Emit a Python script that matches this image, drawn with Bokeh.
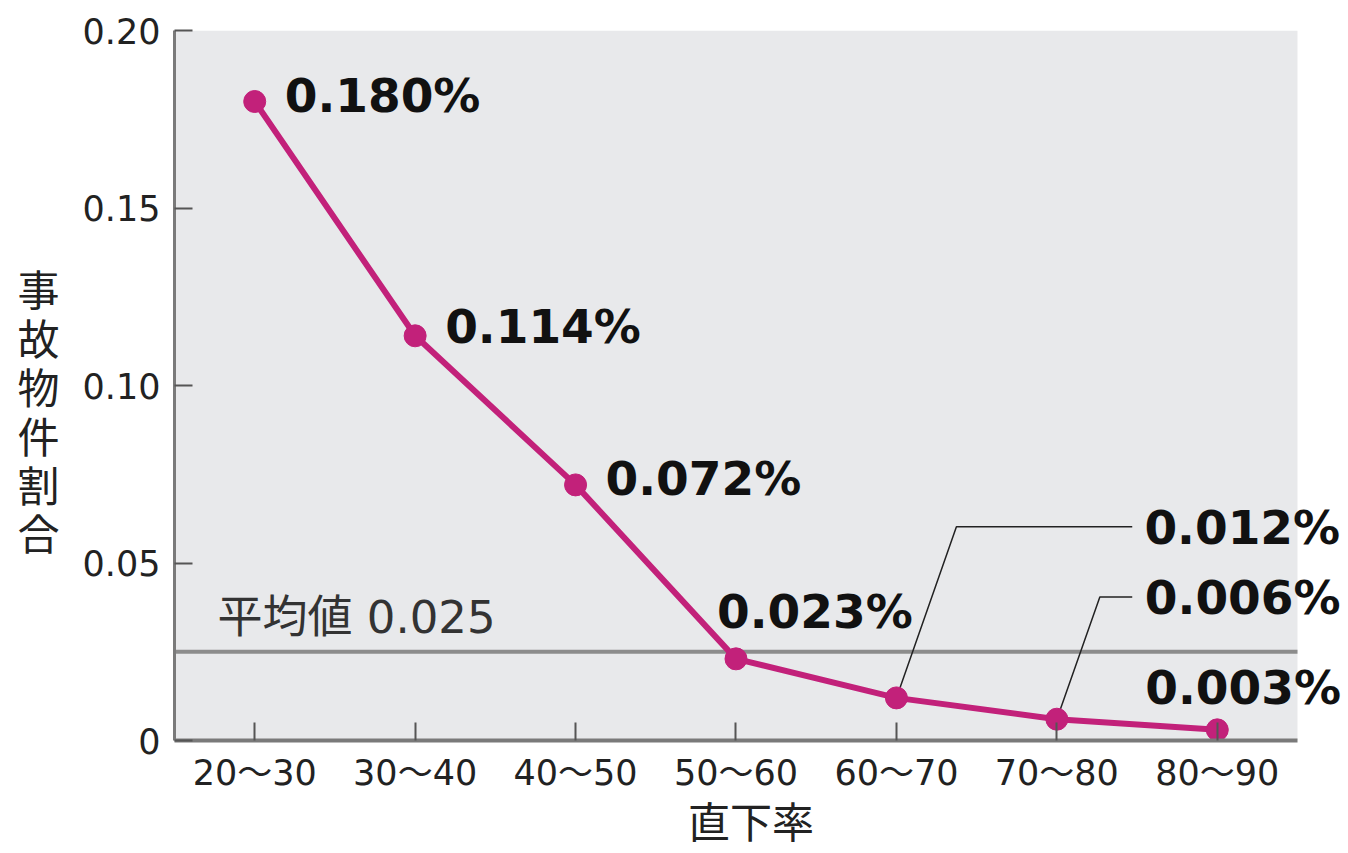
from bokeh.plotting import figure
from bokeh.models import (ColumnDataSource, Range1d, FixedTicker, Label,
                          LabelSet, BoxAnnotation)
from bokeh.core.properties import value
from bokeh.embed import file_html
from bokeh.resources import INLINE

# ---- data ----
categories = ["20〜30", "30〜40", "40〜50", "50〜60", "60〜70", "70〜80", "80〜90"]
rates = [0.180, 0.114, 0.072, 0.023, 0.012, 0.006, 0.003]
labels = ["0.180%", "0.114%", "0.072%", "0.023%", "0.012%", "0.006%", "0.003%"]
average = 0.025
y_ticks = [0, 0.05, 0.10, 0.15, 0.20]
y_tick_labels = ["0", "0.05", "0.10", "0.15", "0.20"]

# label placement (screen px offsets from each point)
lab_dx = [30, 30, 30, -19, 248, 88, -72]
lab_dy = [6, 9, 6, 47, 170, 122, 42]

LINE_COLOR = "#C2217A"
CJK = "Noto Sans CJK JP"
MIX = "DejaVu Sans, Noto Sans CJK JP"

xs = list(range(len(categories)))
x_lo, x_hi = -0.5, len(categories) - 0.5
x_extra = 0.318  # room on the right for the outside labels

p = figure(width=1348, height=853, output_backend="svg", toolbar_location=None,
           x_range=Range1d(x_lo, x_hi + x_extra),
           y_range=Range1d(0, 0.20),
           min_border_left=174, min_border_right=0, min_border_top=30,
           min_border_bottom=113)
p.frame_width = 1174
p.frame_height = 710
p.background_fill_color = "white"
p.border_fill_color = "white"
p.outline_line_color = None
p.grid.visible = False

# grey plotting area
p.add_layout(BoxAnnotation(left=x_lo, right=x_hi, fill_color="#E8E9EB",
                           fill_alpha=1, line_color=None, level="underlay"))

# axes
p.xaxis.ticker = FixedTicker(ticks=xs)
p.xaxis.bounds = (x_lo, x_hi)
p.xaxis.major_label_overrides = {i: c for i, c in enumerate(categories)}
p.yaxis.ticker = FixedTicker(ticks=y_ticks)
p.yaxis.major_label_overrides = {t: l for t, l in zip(y_ticks, y_tick_labels)}
for ax in (p.xaxis, p.yaxis):
    ax.axis_line_color = "#7a7a7a"
    ax.major_tick_line_color = "#555555"
    ax.major_tick_line_width = 2
    ax.major_tick_in = 18
    ax.major_tick_out = 0
    ax.minor_tick_line_color = None
    ax.major_label_text_font = MIX
    ax.major_label_text_font_size = "35px"
    ax.major_label_text_color = "#222222"
p.xaxis.axis_line_width = 4
p.yaxis.axis_line_width = 3
p.xaxis.major_label_standoff = 12
p.yaxis.major_label_standoff = 14
p.xaxis.axis_label = "直下率\u2002"
p.xaxis.axis_label_text_font = CJK
p.xaxis.axis_label_text_font_size = "42px"
p.xaxis.axis_label_text_font_style = "normal"
p.xaxis.axis_label_text_color = "#222222"
p.xaxis.axis_label_standoff = -7

# vertical y-axis title with upright characters
p.yaxis.axis_label = "\u3000\n" + "\n".join("事故物件割合")
p.yaxis.axis_label_orientation = "horizontal"
p.yaxis.axis_label_text_font = CJK
p.yaxis.axis_label_text_font_size = "42px"
p.yaxis.axis_label_text_font_style = "normal"
p.yaxis.axis_label_text_color = "#222222"
p.yaxis.axis_label_text_line_height = 0.8
p.yaxis.axis_label_standoff = 20

# average line
p.line([x_lo, x_hi], [average, average], line_color="#8c8c8c", line_width=4)
p.add_layout(Label(x=x_lo, y=average, x_offset=43, y_offset=34,
                   text="平均値 " + f"{average:.3f}", text_font=MIX,
                   text_font_size="45px", text_color="#333333",
                   text_baseline="middle", text_align="left"))

# leader lines for 0.012 and 0.006 (from point, via elbow, to label)
lead_idx = [4, 5]
elbow_dx = [0.374, 0.268]
elbow_dy = [0.0482, 0.0344]
end_dx = [1.47, 0.47]
for i, ex, ey, hx in zip(lead_idx, elbow_dx, elbow_dy, end_dx):
    p.line([xs[i], xs[i] + ex, xs[i] + hx],
           [rates[i], rates[i] + ey, rates[i] + ey],
           line_color="#222222", line_width=1.5)

# main line + markers
src = ColumnDataSource(dict(x=xs, y=rates, label=labels, dx=lab_dx, dy=lab_dy))
p.line("x", "y", source=src, line_color=LINE_COLOR, line_width=6)
p.scatter("x", "y", source=src, size=22, fill_color=LINE_COLOR,
          line_color=LINE_COLOR)

p.add_layout(LabelSet(x="x", y="y", text="label", source=src,
                      x_offset="dx", y_offset="dy",
                      text_font=value("DejaVu Sans"), text_font_style="bold",
                      text_font_size="47px", text_color="#111111",
                      text_baseline="middle", text_align="left"))

open("out.html", "w").write(file_html(p, INLINE))
